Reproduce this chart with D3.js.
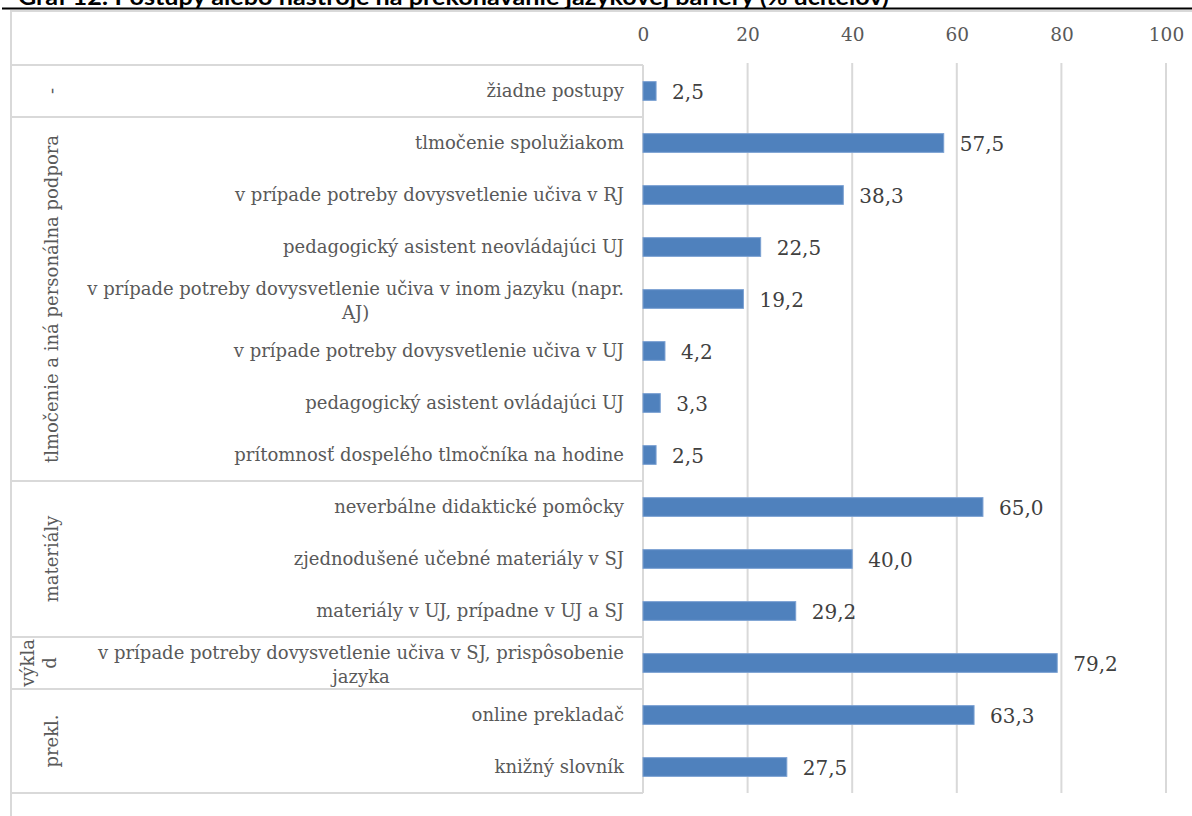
<!DOCTYPE html>
<html>
<head>
<meta charset="utf-8">
<script src="https://cdn.jsdelivr.net/npm/d3@7"></script>
<style>
  body { margin: 0; background: #fff; }
  svg { display: block; }
</style>
</head>
<body>
<script>
window.onload = function(){

    const titleText = "Graf 12: Postupy alebo nástroje na prekonávanie jazykovej bariéry (% učiteľov)";

    const groupNames = ["-", "tlmočenie a iná personálna podpora", "materiály", "výklad", "prekl."];
    const groupSizes = [1, 7, 3, 1, 2];

    const categories = [
        "žiadne postupy",
        "tlmočenie spolužiakom",
        "v prípade potreby dovysvetlenie učiva v RJ",
        "pedagogický asistent neovládajúci UJ",
        "v prípade potreby dovysvetlenie učiva v inom jazyku (napr. AJ)",
        "v prípade potreby dovysvetlenie učiva v UJ",
        "pedagogický asistent ovládajúci UJ",
        "prítomnosť dospelého tlmočníka na hodine",
        "neverbálne didaktické pomôcky",
        "zjednodušené učebné materiály v SJ",
        "materiály v UJ, prípadne v UJ a SJ",
        "v prípade potreby dovysvetlenie učiva v SJ, prispôsobenie jazyka",
        "online prekladač",
        "knižný slovník"
    ];
    const values = [2.5, 57.5, 38.3, 22.5, 19.2, 4.2, 3.3, 2.5, 65.0, 40.0, 29.2, 79.2, 63.3, 27.5];
    const ticks = [0, 20, 40, 60, 80, 100];

    const width = 1192;
    const height = 816;
    const plotLeft = 643;   // value 0
    const plotRight = 1166; // value 100
    const rowTop = 65;
    const rowBottom = 793;
    const boxLeft = 11;
    const labelRight = 624;
    const serif = "'DejaVu Serif', serif";
    const grid = '#d9d9d9';

    const xScale = d3.scaleLinear()
        .domain([0, 100])
        .range([plotLeft, plotRight]);

    const yScale = d3.scaleBand()
        .domain(categories)
        .range([rowTop, rowBottom])
        .padding(0);

    const barH = yScale.bandwidth() * 0.36;

    const svg = d3.select('body')
        .append('svg')
        .attr('width', width)
        .attr('height', height);

    // title, cut off at the top edge as in the source
    svg.append('text')
        .attr('x', 18)
        .attr('y', 4.5)
        .attr('font-family', 'Lato, sans-serif')
        .attr('font-weight', 'bold')
        .attr('font-size', 22)
        .attr('textLength', 871)
        .attr('lengthAdjust', 'spacingAndGlyphs')
        .attr('fill', '#000')
        .text(titleText);

    svg.append('line')
        .attr('x1', 2).attr('x2', width)
        .attr('y1', 8.5).attr('y2', 8.5)
        .attr('stroke', '#000').attr('stroke-width', 2);

    // outer chart border
    svg.append('line')
        .attr('x1', boxLeft).attr('x2', width)
        .attr('y1', 11).attr('y2', 11)
        .attr('stroke', grid).attr('stroke-width', 2);
    svg.append('line')
        .attr('x1', boxLeft).attr('x2', boxLeft)
        .attr('y1', 10).attr('y2', height)
        .attr('stroke', grid).attr('stroke-width', 2);

    // top axis labels
    const xAxis = svg.append('g')
        .attr('transform', `translate(0,${rowTop - 30})`)
        .call(d3.axisTop(xScale).tickValues(ticks).tickSize(0).tickPadding(0));
    xAxis.select('.domain').remove();
    xAxis.selectAll('text')
        .attr('font-family', serif)
        .attr('font-size', 18.5)
        .attr('fill', '#595959')
        .attr('dy', '0.35em');

    // gridlines
    svg.append('g')
        .selectAll('line')
        .data(ticks.filter(t => t > 0))
        .enter()
            .append('line')
                .attr('x1', d => xScale(d))
                .attr('x2', d => xScale(d))
                .attr('y1', rowTop - 2)
                .attr('y2', rowBottom)
                .attr('stroke', grid)
                .attr('stroke-width', 2);

    // category table: right border + group separators
    svg.append('line')
        .attr('x1', plotLeft).attr('x2', plotLeft)
        .attr('y1', rowTop).attr('y2', rowBottom)
        .attr('stroke', grid).attr('stroke-width', 2);

    let groupStart = [];
    let acc = 0;
    groupSizes.forEach(s => { groupStart.push(acc); acc += s; });

    const sepY = groupStart.map(i => yScale(categories[i])).concat([rowBottom]);
    svg.append('g')
        .selectAll('line')
        .data(sepY)
        .enter()
            .append('line')
                .attr('x1', boxLeft)
                .attr('x2', plotLeft)
                .attr('y1', d => d)
                .attr('y2', d => d)
                .attr('stroke', grid)
                .attr('stroke-width', 2);

    // bars
    svg.append('g')
        .selectAll('rect')
        .data(values)
        .enter()
            .append('rect')
                .attr('x', xScale(0))
                .attr('y', (d, i) => yScale(categories[i]) + (yScale.bandwidth() - barH) / 2)
                .attr('width', d => xScale(d) - xScale(0))
                .attr('height', barH)
                .attr('fill', '#4f81bd')
                .attr('stroke', '#7aa0d2')
                .attr('stroke-width', 1);

    // value labels
    svg.append('g')
        .selectAll('text')
        .data(values)
        .enter()
            .append('text')
                .attr('x', d => xScale(d) + 16)
                .attr('y', (d, i) => yScale(categories[i]) + yScale.bandwidth() / 2 + 1)
                .attr('dy', '0.35em')
                .attr('font-family', serif)
                .attr('font-size', 20)
                .attr('fill', '#404040')
                .text(d => d.toFixed(1).replace('.', ','));

    // category labels, wrapped if too long
    const maxLabelW = 545;
    const catLabels = svg.append('g')
        .attr('font-family', serif)
        .attr('font-size', 18)
        .attr('fill', '#595959');

    categories.forEach(function(cat, i){
        const cy = yScale(cat) + yScale.bandwidth() / 2;
        const t = catLabels.append('text');
        const words = cat.split(' ');
        let lines = [];
        let line = [];
        words.forEach(function(w){
            line.push(w);
            t.text(line.join(' '));
            if (t.node().getComputedTextLength() > maxLabelW && line.length > 1) {
                line.pop();
                lines.push(line.join(' '));
                line = [w];
            }
        });
        lines.push(line.join(' '));
        t.text(null);
        if (lines.length === 1) {
            t.attr('x', labelRight).attr('y', cy).attr('dy', '0.35em')
                .attr('text-anchor', 'end').text(lines[0]);
        } else {
            t.text(lines[0]);
            const w0 = t.node().getComputedTextLength();
            t.text(null);
            const cx = labelRight - w0 / 2;
            const lh = 24;
            lines.forEach(function(l, k){
                t.append('tspan')
                    .attr('x', cx)
                    .attr('y', cy - 10 + k * lh)
                    .attr('dy', '0.35em')
                    .attr('text-anchor', 'middle')
                    .text(l);
            });
        }
    });

    // group labels (rotated)
    const groupX = 52;
    const grpLabels = svg.append('g')
        .attr('font-family', serif)
        .attr('font-size', 18)
        .attr('fill', '#595959');

    groupNames.forEach(function(name, g){
        const y0 = sepY[g];
        const y1 = sepY[g + 1];
        const cy = (y0 + y1) / 2;
        const avail = y1 - y0 + 4;
        const t = grpLabels.append('text')
            .attr('transform', `translate(${groupX},${cy}) rotate(-90)`)
            .attr('text-anchor', 'middle');
        t.text(name);
        if (t.node().getComputedTextLength() <= avail) {
            t.attr('dy', '0.35em');
            return;
        }
        // break by characters when the group is too short
        let lines = [];
        let cur = '';
        for (const ch of name) {
            t.text(cur + ch);
            if (t.node().getComputedTextLength() > avail && cur.length > 0) {
                lines.push(cur);
                cur = ch;
            } else {
                cur += ch;
            }
        }
        lines.push(cur);
        t.text(null);
        t.attr('transform', `translate(${groupX - 24},${cy}) rotate(-90)`);
        lines.forEach(function(l, k){
            t.append('tspan')
                .attr('x', 0)
                .attr('y', k * 22)
                .attr('dy', '0.35em')
                .text(l);
        });
    });

};
</script>
</body>
</html>
